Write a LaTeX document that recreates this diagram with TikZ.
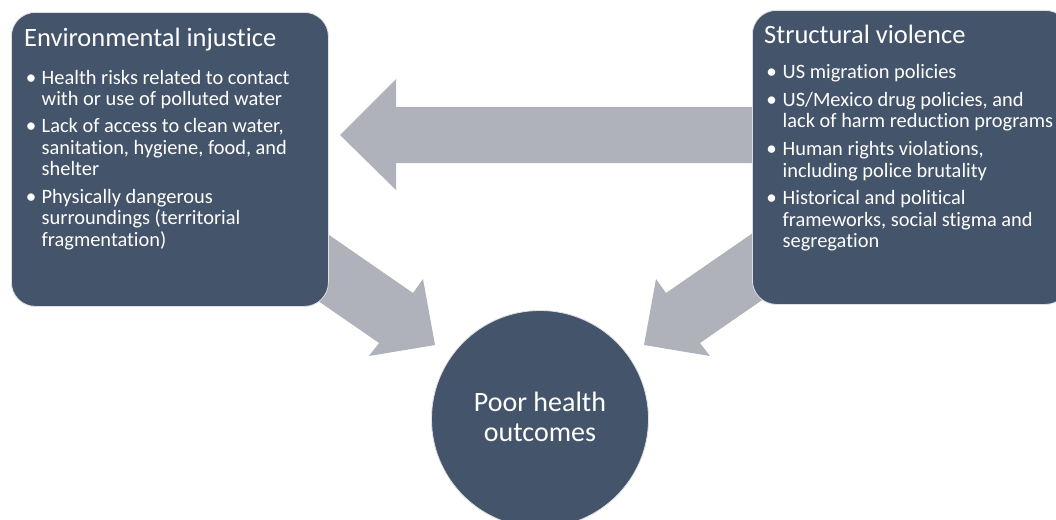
\documentclass[tikz,border=0pt]{standalone}
\usepackage{fontspec}
\setmainfont{Carlito}[Ligatures=NoCommon]
\definecolor{boxblue}{RGB}{68,84,106}
\definecolor{arrowgray}{RGB}{175,178,186}
\definecolor{edgegray}{RGB}{222,224,228}
\begin{document}
\begin{tikzpicture}[x=1pt,y=-1pt,
  box/.style={draw=edgegray, line width=0.8pt, fill=boxblue, rounded corners=24pt,
    minimum width=317pt, minimum height=294pt, anchor=north west, inner sep=0pt},
  hub/.style={circle, draw=edgegray, line width=0.8pt, fill=boxblue,
    minimum size=217pt, inner sep=0pt},
  blockarrow/.style={fill=arrowgray, draw=none},
  ttl/.style={text=white, anchor=base west, inner sep=0pt, font=\fontsize{26.5}{30}\selectfont},
  itm/.style={text=white, anchor=base west, inner sep=0pt, font=\fontsize{20.4}{21.5}\selectfont},
  bul/.style={text=white, anchor=base, inner sep=0pt, font=\fontsize{21}{21.5}\selectfont},
  hubtxt/.style={text=white, anchor=base, inner sep=0pt, font=\fontsize{28}{30}\selectfont}]
\useasboundingbox (0,0) rectangle (1056,519);
\clip (0,0) rectangle (1056,519);

% block arrows (drawn first, boxes cover their tails)
\coordinate (hTip) at (340,135);
\path[blockarrow] (hTip) -- (396,79) -- (396,107) -- (900,107) -- (900,163) -- (396,163) -- (396,190) -- cycle;
\coordinate (lTip) at (435,345);
\path[blockarrow] (lTip) -- (369,356) -- (379,343) -- (256,258) -- (290,208) -- (413,293) -- (423,279) -- cycle;
\coordinate (rTip) at (644,345);
\path[blockarrow] (rTip) -- (710,356) -- (700,343) -- (823,258) -- (789,208) -- (666,293) -- (656,279) -- cycle;

% boxes
\node[box] (env) at (11,12) {};
\node[box] (struct) at (752,10) {};
\node[hub] (hub) at (540,419) {};

% left box text
\node[ttl] (envT) at (24,47) {Environmental injustice};
\node[bul] (eb1) at (31,84) {•};
\node[itm] (e1a) at (41.5,84) {Health risks related to contact};
\node[itm] (e1b) at (41.5,105.5) {with or use of polluted water};
\node[bul] (eb2) at (31,132.5) {•};
\node[itm] (e2a) at (41.5,132.5) {Lack of access to clean water,};
\node[itm] (e2b) at (41.5,154) {sanitation, hygiene, food, and};
\node[itm] (e2c) at (41.5,175.5) {shelter};
\node[bul] (eb3) at (31,203) {•};
\node[itm] (e3a) at (41.5,203) {Physically dangerous};
\node[itm] (e3b) at (41.5,224.5) {surroundings (territorial};
\node[itm] (e3c) at (41.5,246) {fragmentation)};

% right box text
\node[ttl] (strT) at (764,43.5) {Structural violence};
\node[bul] (sb1) at (771.5,78.5) {•};
\node[itm] (s1a) at (782.5,78.5) {US migration policies};
\node[bul] (sb2) at (771.5,106) {•};
\node[itm] (s2a) at (782.5,106) {US/Mexico drug policies, and};
\node[itm] (s2b) at (782.5,127.5) {lack of harm reduction programs};
\node[bul] (sb3) at (771.5,155.5) {•};
\node[itm] (s3a) at (782.5,155.5) {Human rights violations,};
\node[itm] (s3b) at (782.5,177) {including police brutality};
\node[bul] (sb4) at (771.5,204.5) {•};
\node[itm] (s4a) at (782.5,204.5) {Historical and political};
\node[itm] (s4b) at (782.5,226) {frameworks, social stigma and};
\node[itm] (s4c) at (782.5,247.5) {segregation};

% hub text
\node[hubtxt] (hubA) at (540,411.5) {Poor health};
\node[hubtxt] (hubB) at (540,441.5) {outcomes};
\end{tikzpicture}
\end{document}
